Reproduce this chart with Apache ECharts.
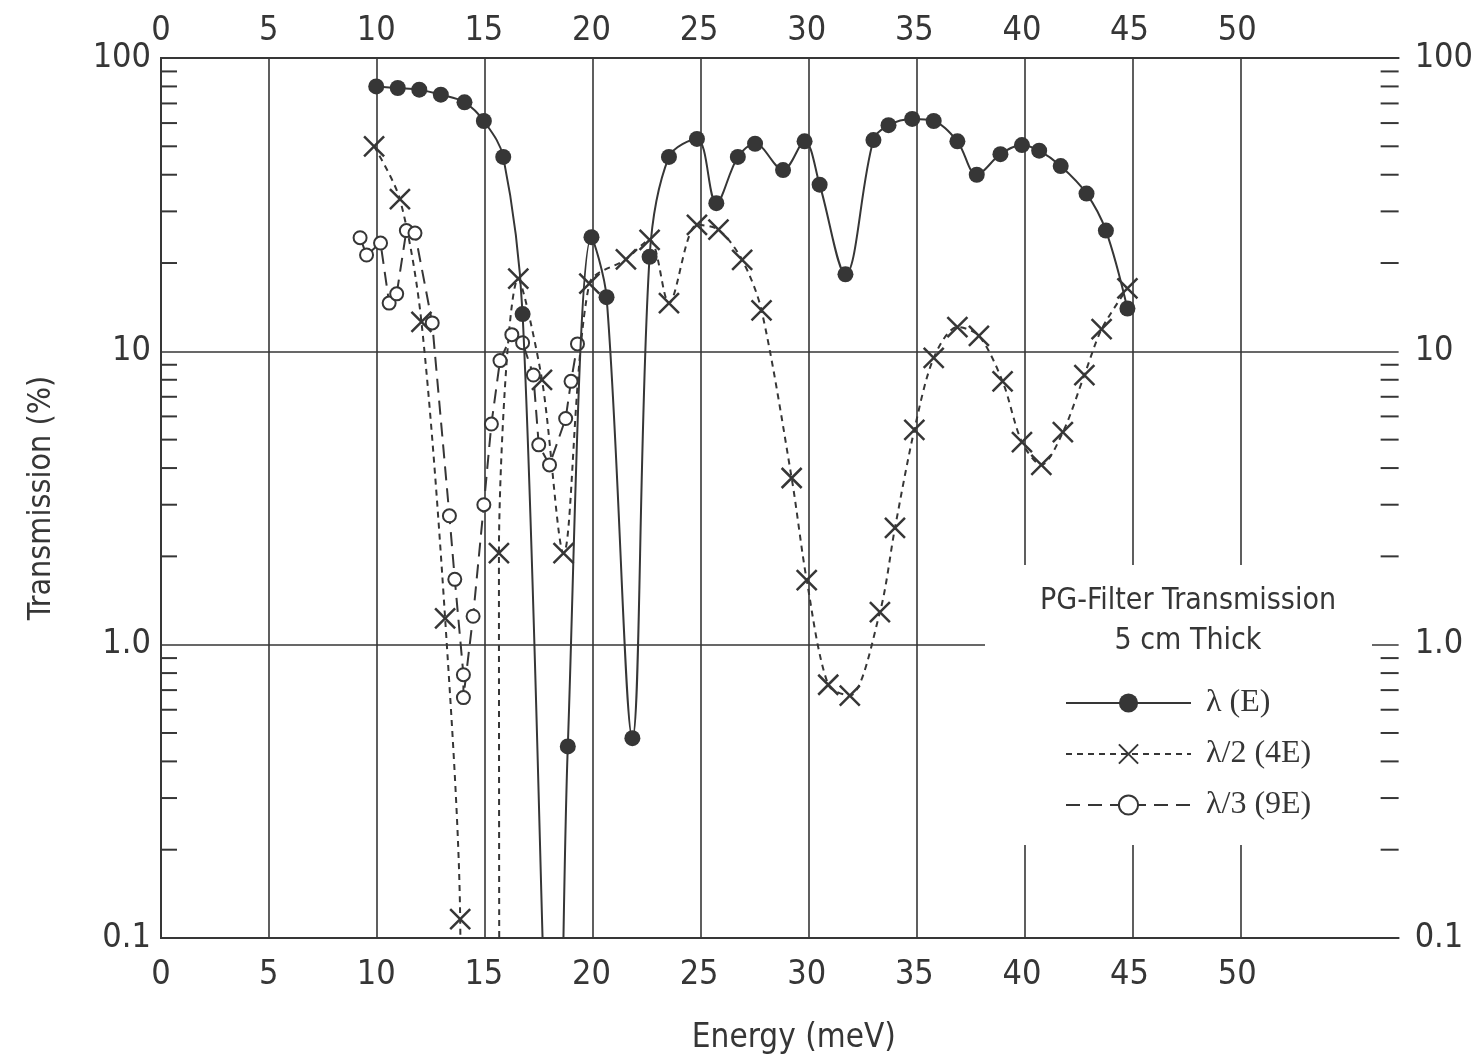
<!DOCTYPE html>
<html>
<head>
<meta charset="utf-8">
<script src="https://cdn.jsdelivr.net/npm/echarts@6/dist/echarts.min.js"></script>
<style>
  html, body { margin: 0; padding: 0; background: #fff; }
  #chart { width: 1476px; height: 1060px; }
</style>
</head>
<body>
<div id="chart"></div>
<script>
// --- data (energy in meV, transmission in %) ---
// points below 0.1 % are where a curve runs out of the frame
const lambdaE = [
  [10.0, 80], [11.0, 79], [12.0, 78], [13.0, 75], [14.1, 70.6], [15.0, 61], [15.9, 46], [16.8, 13.4],
  [18.35, 0.01], [18.9, 0.45], [20.0, 24.5], [20.7, 15.3], [21.9, 0.48], [22.7, 21], [23.6, 46],
  [24.9, 53], [25.8, 32], [26.8, 46], [27.6, 51], [28.9, 41.5], [29.9, 52], [30.6, 37], [31.8, 18.3],
  [33.1, 52.5], [33.8, 59], [34.9, 62], [35.9, 61], [37.0, 52], [37.9, 40], [39.0, 47], [40.0, 50.5],
  [40.8, 48.3], [41.8, 42.8], [43.0, 34.5], [43.9, 25.8], [44.9, 14.0]
];
const lambda2 = [
  [9.9, 50], [11.1, 33], [12.1, 12.6], [13.2, 1.23], [13.9, 0.116], [14.0, 0.001], [15.75, 0.001],
  [15.7, 2.05], [16.6, 17.7], [17.7, 8.0], [18.7, 2.05], [19.9, 17], [21.6, 20.6], [22.7, 24],
  [23.6, 14.6], [24.9, 27], [25.9, 26], [27.0, 20.5], [27.9, 13.8], [29.3, 3.7], [30.0, 1.66],
  [31.0, 0.73], [32.0, 0.67], [33.4, 1.29], [34.1, 2.5], [35.0, 5.4], [35.9, 9.5], [37.0, 12.1],
  [38.0, 11.3], [39.1, 7.9], [40.0, 4.9], [40.9, 4.1], [41.9, 5.3], [42.9, 8.3], [43.7, 11.9], [44.9, 16.4]
];
const lambda3 = [
  [9.25, 24.4], [9.55, 21.3], [10.2, 23.4], [10.6, 14.6], [10.95, 15.7], [11.4, 25.8], [11.8, 25.3],
  [12.6, 12.5], [13.4, 2.75], [13.65, 1.67], [14.05, 0.79], [14.05, 0.66], [14.5, 1.25], [15.0, 3.0],
  [15.35, 5.65], [15.75, 9.3], [16.3, 11.4], [16.8, 10.7], [17.3, 8.3], [17.55, 4.8], [18.05, 4.1],
  [18.8, 5.9], [19.05, 7.9], [19.35, 10.6]
];
const seriesNames = ['λ (E)', 'λ/2 (4E)', 'λ/3 (9E)'];
const legendTitle = 'PG-Filter Transmission\n5 cm Thick';
const xGridValues = [0, 50];     // vertical grid lines run 0..50 step 5
const minorTicks = [0.2, 0.3, 0.4, 0.5, 0.6, 0.7, 0.8, 0.9, 2, 3, 4, 5, 6, 7, 8, 9, 20, 30, 40, 50, 60, 70, 80, 90];

const ink = '#363636';
const sans = "'Liberation Sans Narrow', 'DejaVu Sans Condensed', 'Liberation Sans', sans-serif";
const serif = "'Liberation Serif', 'DejaVu Serif', serif";

const chart = echarts.init(document.getElementById('chart'));

const yLabel = v => (v >= 10 ? String(Math.round(v)) : (+v).toFixed(1));
const xLabel = v => (v <= 50 ? String(v) : '');
// off-frame points get no marker
const pts = arr => arr.map(p => (p[1] < 0.1 ? { value: p, symbol: 'none' } : p));

const logAxis = (pos) => ({
  type: 'log', logBase: 10, min: 0.1, max: 100, position: pos, gridIndex: 0,
  axisLine: { show: true, lineStyle: { color: ink, width: 2 } },
  axisTick: { show: false },
  axisLabel: { formatter: yLabel, fontFamily: sans, fontSize: 34, color: ink, margin: pos === 'left' ? 10 : 16 },
  splitLine: { show: pos === 'left', lineStyle: { color: ink, width: 1.6 } }
});

const xAxisBase = (pos) => ({
  type: 'value', min: 0, max: 57.5, interval: 5, position: pos, gridIndex: 0,
  axisLine: { show: true, onZero: false, lineStyle: { color: ink, width: 2 } },
  axisTick: { show: false },
  axisLabel: { formatter: xLabel, fontFamily: sans, fontSize: 34, color: ink, margin: pos === 'bottom' ? 20 : 10 },
  splitLine: { show: false }
});

const option = {
  backgroundColor: '#fff',
  animation: false,
  grid: [
    { left: 161, top: 58, width: 1242, height: 880 },
    // same left edge, 50 units wide: carries the vertical grid lines
    { left: 161, top: 58, width: 1080, height: 880 }
  ],
  xAxis: [
    Object.assign(xAxisBase('bottom'), {
      name: 'Energy (meV)', nameLocation: 'middle', nameGap: 84,
      nameTextStyle: { fontFamily: sans, fontSize: 33, color: ink, padding: [0, 0, 0, 28] }
    }),
    xAxisBase('top'),
    {
      type: 'value', gridIndex: 1, min: xGridValues[0], max: xGridValues[1], interval: 5,
      axisLine: { show: false }, axisTick: { show: false }, axisLabel: { show: false },
      splitLine: { show: true, lineStyle: { color: ink, width: 1.6 } }
    }
  ],
  yAxis: [
    Object.assign(logAxis('left'), {
      name: 'Transmission (%)', nameLocation: 'middle', nameGap: 103, nameRotate: 90,
      nameTextStyle: { fontFamily: sans, fontSize: 32, color: ink }
    }),
    logAxis('right'),
    { type: 'value', gridIndex: 1, min: 0, max: 1, show: false }
  ],
  graphic: [
    { type: 'rect', left: 985, top: 565, shape: { width: 387, height: 280 }, style: { fill: '#fff' }, z: 3, silent: true }
  ],
  title: {
    text: legendTitle, left: 1183, top: 576, textAlign: 'center',
    textStyle: { fontFamily: sans, fontSize: 30, fontWeight: 'normal', lineHeight: 40, color: ink }
  },
  legend: {
    orient: 'vertical', left: 1060, top: 682, itemWidth: 125, itemHeight: 24, itemGap: 19,
    data: seriesNames, selectedMode: false,
    textStyle: { fontFamily: serif, fontSize: 32, color: ink, padding: [0, 0, 0, 10] }
  },
  series: [
    {
      name: seriesNames[0], type: 'line', data: pts(lambdaE), smooth: 0.35,
      symbol: 'circle', symbolSize: 16,
      lineStyle: { color: ink, width: 2 }, itemStyle: { color: ink }, z: 4
    },
    {
      name: seriesNames[1], type: 'line', data: pts(lambda2), smooth: 0.3,
      symbol: 'path://M0,0L10,10M10,0L0,10', symbolSize: 20,
      lineStyle: { color: ink, width: 2, type: [6, 5] },
      itemStyle: { color: 'rgba(0,0,0,0)', borderColor: ink, borderWidth: 2.5 }, z: 3
    },
    {
      name: seriesNames[2], type: 'line', data: pts(lambda3),
      symbol: 'emptyCircle', symbolSize: 13,
      lineStyle: { color: ink, width: 2, type: [14, 8] },
      itemStyle: { color: ink, borderColor: ink, borderWidth: 2 }, z: 3
    },
    {
      // minor log ticks, pointing into the plot on both sides
      type: 'custom', name: 'ticks', silent: true, z: 1,
      data: minorTicks.map(v => [0, v]),
      renderItem: (params, api) => {
        const cs = params.coordSys;
        const y = api.coord([0, api.value(1)])[1];
        return {
          type: 'group',
          children: [
            { type: 'line', shape: { x1: cs.x, y1: y, x2: cs.x + 16, y2: y }, style: { stroke: ink, lineWidth: 2 } },
            { type: 'line', shape: { x1: cs.x + cs.width - 18, y1: y, x2: cs.x + cs.width, y2: y }, style: { stroke: ink, lineWidth: 2 } }
          ]
        };
      }
    }
  ]
};

chart.setOption(option);
</script>
</body>
</html>
